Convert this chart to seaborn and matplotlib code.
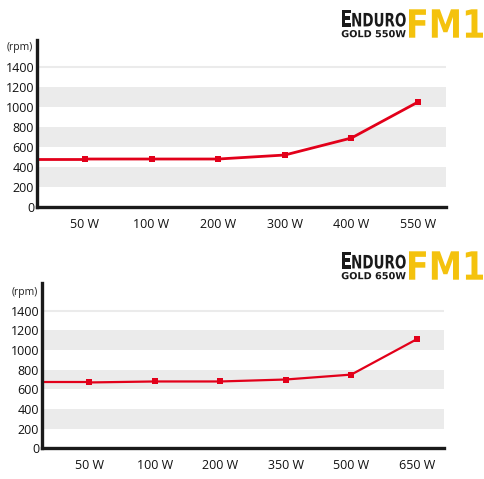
import matplotlib
matplotlib.use("Agg")
import matplotlib.pyplot as plt
import seaborn as sns
import pandas as pd
from matplotlib.textpath import TextPath
from matplotlib.patches import PathPatch
from matplotlib.font_manager import FontProperties
from matplotlib.transforms import Affine2D

# data
loads_550 = ["50 W", "100 W", "200 W", "300 W", "400 W", "550 W"]
rpm_550 = [480, 480, 480, 520, 690, 1050]
loads_650 = ["50 W", "100 W", "200 W", "350 W", "500 W", "650 W"]
rpm_650 = [670, 680, 680, 700, 750, 1110]
yticks = [0, 200, 400, 600, 800, 1000, 1200, 1400]
bands = [(200, 400), (600, 800), (1000, 1200)]

sns.set_style("white")
plt.rcParams["font.family"] = ["Open Sans", "DejaVu Sans"]

RED = "#e2001a"
GREY = "#ebebeb"
YELLOW = "#f4c20d"
INK = "#1a1a1a"
W, H = 484, 479

fig = plt.figure(figsize=(W / 100, H / 100), dpi=100, facecolor="white")
bold = FontProperties(family="DejaVu Sans", weight="bold")


def boxed_text(s, x0, y0, x1, y1, color):
    # squeeze a text outline into a pixel box (y measured from the top)
    tp = TextPath((0, 0), s, size=10, prop=bold)
    bb = tp.get_extents()
    tr = (Affine2D().translate(-bb.x0, -bb.y0)
          .scale((x1 - x0) / bb.width, (y1 - y0) / bb.height)
          .translate(x0, H - y1))
    fig.add_artist(PathPatch(tp, transform=tr, facecolor=color, lw=0))


def logo(dy, model):
    boxed_text("E", 341.7, 10 + dy, 351, 26.7 + dy, INK)
    boxed_text("NDURO", 352.3, 12.7 + dy, 405.7, 26.7 + dy, INK)
    boxed_text("GOLD " + model, 341.7, 30 + dy, 405.7, 37.3 + dy, INK)
    boxed_text("FM1", 409, 9.3 + dy, 483, 37.7 + dy, YELLOW)


def draw(rect, loads, rpm, ytop, lw):
    ax = fig.add_axes(rect)
    df = pd.DataFrame({"pos": range(len(loads)), "rpm": rpm})
    xlim = (-0.72, len(loads) - 0.58)
    for lo, hi in bands:
        ax.axhspan(lo, hi, color=GREY, lw=0, zorder=0)
    ax.axhline(yticks[-1], color=GREY, lw=1.5, zorder=0)
    # flat lead-in from the axis to the first point
    ax.plot([xlim[0], 0], [rpm[0], rpm[0]], color=RED, lw=lw, zorder=2)
    sns.lineplot(data=df, x="pos", y="rpm", ax=ax, color=RED, lw=lw,
                 marker="s", markersize=5, markeredgewidth=0, zorder=3)
    ax.set_xlim(*xlim)
    ax.set_ylim(0, ytop)
    ax.set_xticks(range(len(loads)))
    ax.set_xticklabels(loads)
    ax.set_yticks(yticks)
    ax.set_xlabel("")
    ax.set_ylabel("")
    ax.tick_params(axis="both", length=0, labelsize=9, colors="#111111")
    ax.tick_params(axis="x", pad=8)
    ax.tick_params(axis="y", pad=2)
    for s in ["top", "right"]:
        ax.spines[s].set_visible(False)
    for s in ["left", "bottom"]:
        ax.spines[s].set_color(INK)
        ax.spines[s].set_linewidth(2.4)
    ax.text(-0.01, 1590, "(rpm)", transform=ax.get_yaxis_transform(),
            ha="right", va="center", fontsize=7.5, color="#222222")
    return ax


draw([0.0764, 0.5678, 0.8451, 0.3487], loads_550, rpm_550, 1670, 2.0)
draw([0.0868, 0.0641, 0.8312, 0.3451], loads_650, rpm_650, 1682, 1.6)
logo(0, "550W")
logo(242, "650W")

fig.savefig("out.png", dpi=100, facecolor="white")
